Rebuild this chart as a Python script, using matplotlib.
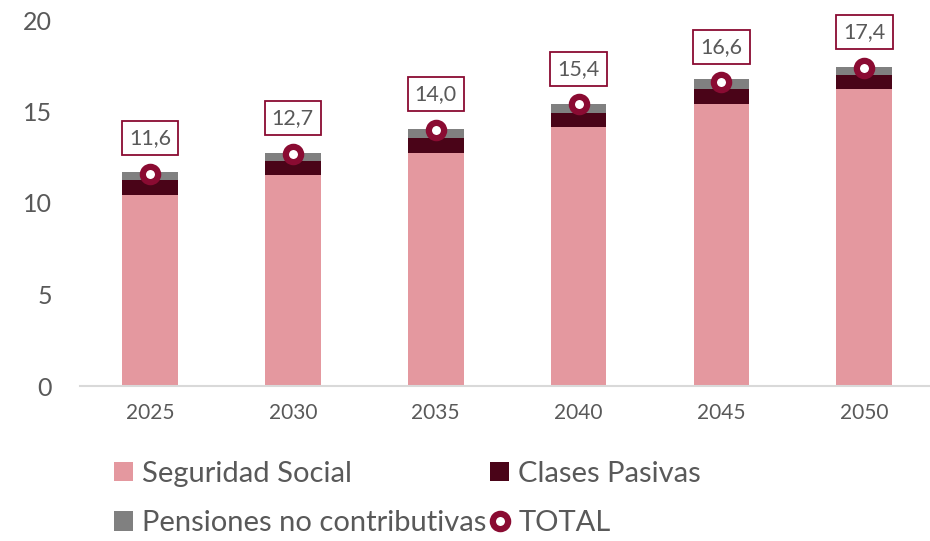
import matplotlib
matplotlib.use('Agg')
import matplotlib.pyplot as plt
import numpy as np

plt.rcParams['font.family'] = ['Lato', 'DejaVu Sans']

years = ['2025', '2030', '2035', '2040', '2045', '2050']
seguridad_social = [10.45, 11.55, 12.75, 14.15, 15.4, 16.25]
clases_pasivas = [0.8, 0.75, 0.8, 0.75, 0.85, 0.75]
no_contributivas = [0.45, 0.45, 0.5, 0.5, 0.5, 0.45]
total = [11.6, 12.7, 14.0, 15.4, 16.6, 17.4]

C_SS = '#E4989F'
C_CP = '#4A0418'
C_NC = '#808080'
C_TOT = '#8A0B32'
C_TXT = '#595959'

fig = plt.figure(figsize=(9.3, 5.41), dpi=100)
ax = fig.add_axes([80 / 930, 1 - 386 / 541, 850 / 930, 366 / 541])

x = np.arange(len(years))
w = 0.39
ss = np.array(seguridad_social)
cp = np.array(clases_pasivas)
nc = np.array(no_contributivas)

h_ss = ax.bar(x, ss, width=w, color=C_SS, zorder=2)
h_cp = ax.bar(x, cp, width=w, bottom=ss, color=C_CP, zorder=2)
h_nc = ax.bar(x, nc, width=w, bottom=ss + cp, color=C_NC, zorder=2)
h_tot, = ax.plot(x, total, linestyle='none', marker='o', markersize=11, markerfacecolor='white',
                 markeredgecolor=C_TOT, markeredgewidth=4.5, zorder=4)

for xi, t in zip(x, total):
    ax.annotate(f'{t:.1f}'.replace('.', ','), (xi, t), xytext=(0, 25.5),
                textcoords='offset points', ha='center', va='center',
                fontsize=15.5, color=C_TXT,
                bbox=dict(boxstyle='square,pad=0.33', fc='white', ec=C_TOT, lw=1.3),
                zorder=5)

ax.set_xlim(-0.49, 5.46)
ax.set_ylim(0, 20)
ax.set_yticks([0, 5, 10, 15, 20])
ax.set_xticks(x)
ax.set_xticklabels(years)
ax.tick_params(axis='both', length=0, colors=C_TXT)
ax.tick_params(axis='y', labelsize=18, pad=20)
ax.tick_params(axis='x', labelsize=15, pad=12)
for s in ['top', 'right', 'left']:
    ax.spines[s].set_visible(False)
ax.spines['bottom'].set_color('#D9D9D9')
ax.spines['bottom'].set_linewidth(1.5)

leg = fig.legend([h_ss, h_nc, h_cp, h_tot],
                 ['Seguridad Social', 'Pensiones no contributivas', 'Clases Pasivas', 'TOTAL'],
                 ncol=2, loc='upper left', bbox_to_anchor=(114 / 930, 1 - 461 / 541),
                 frameon=False, fontsize=21, handlelength=0.65, handleheight=0.65,
                 handletextpad=0.3, columnspacing=0.15, labelspacing=0.8,
                 borderaxespad=0, borderpad=0)
for t in leg.get_texts():
    t.set_color(C_TXT)

fig.savefig('out.png', dpi=100)
